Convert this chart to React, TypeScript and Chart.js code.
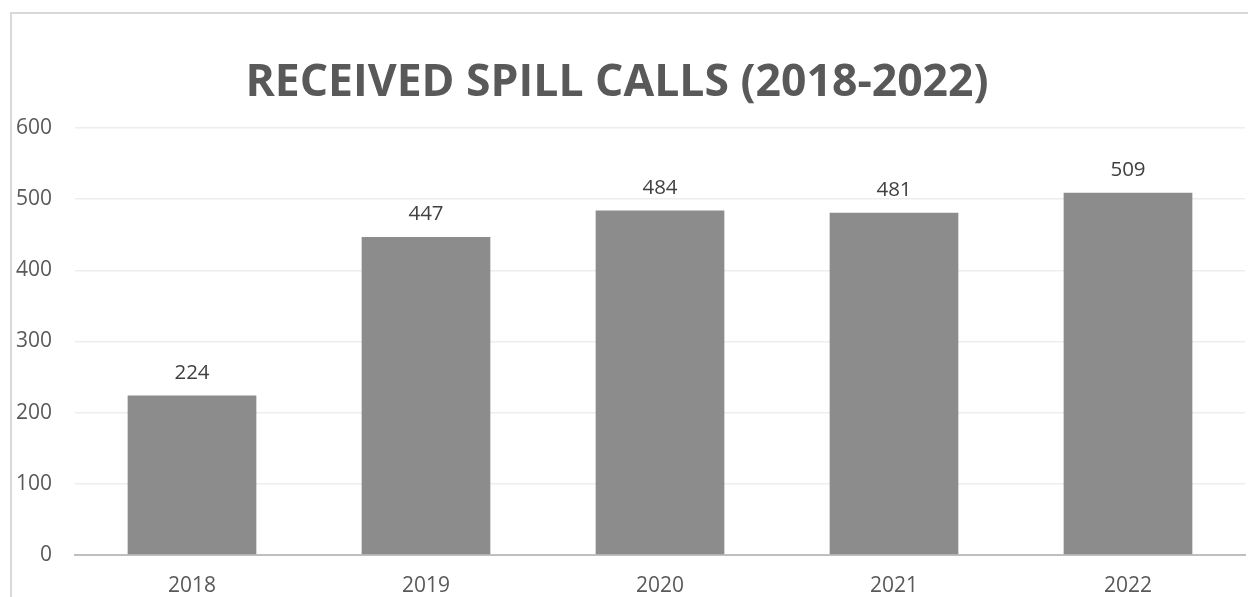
import React, { useEffect, useRef } from "react";
import { Chart, registerables } from "chart.js";

Chart.register(...registerables);

const categories = ["2018", "2019", "2020", "2021", "2022"];
const calls = [224, 447, 484, 481, 509];
const yTicks = [0, 100, 200, 300, 400, 500, 600];
const titleText = "RECEIVED SPILL CALLS (2018-2022)";

export default function App() {
  const ref = useRef<HTMLCanvasElement | null>(null);

  useEffect(() => {
    const canvas = ref.current;
    if (!canvas) return;
    const font = "'Open Sans', 'DejaVu Sans', sans-serif";

    const labelsPlugin = {
      id: "labelsAndTitle",
      afterDatasetsDraw(chart: any) {
        const ctx = chart.ctx;
        ctx.save();
        const meta = chart.getDatasetMeta(0);
        ctx.fillStyle = "#404040";
        ctx.font = `20.5px ${font}`;
        ctx.textAlign = "center";
        ctx.textBaseline = "alphabetic";
        meta.data.forEach((bar: any, i: number) => {
          ctx.fillText(String(calls[i]), bar.x, bar.y - 17);
        });
        ctx.fillStyle = "#595959";
        ctx.font = `bold 44.5px ${font}`;
        ctx.fillText(titleText, 617, 96);
        ctx.restore();
      },
    };

    const chart = new Chart(canvas, {
      type: "bar",
      data: {
        labels: categories,
        datasets: [
          {
            data: calls,
            backgroundColor: "#8c8c8c",
            borderWidth: 0,
            categoryPercentage: 0.55,
            barPercentage: 1,
          },
        ],
      },
      options: {
        animation: false,
        responsive: false,
        maintainAspectRatio: false,
        layout: { padding: { top: 128, right: 3, left: 0, bottom: 0 } },
        plugins: {
          legend: { display: false },
          title: { display: false },
          tooltip: { enabled: false },
        },
        scales: {
          x: {
            grid: { display: false, drawTicks: false },
            border: { color: "#bfbfbf", width: 2 },
            ticks: {
              color: "#595959",
              font: { family: font, size: 21 },
              padding: 18,
            },
            afterFit(scale: any) {
              scale.height = 42;
            },
          },
          y: {
            min: 0,
            max: 600,
            afterBuildTicks(scale: any) {
              scale.ticks = yTicks.map((v) => ({ value: v }));
            },
            grid: { color: "#ededed", lineWidth: 1.5, drawTicks: false },
            border: { display: false },
            ticks: {
              color: "#595959",
              font: { family: font, size: 21 },
              padding: 23,
            },
            afterFit(scale: any) {
              scale.width = 75;
            },
          },
        },
      },
      plugins: [labelsPlugin],
    });
    return () => chart.destroy();
  }, []);

  return (
    <div style={{ position: "fixed", left: 0, top: 0, width: 1248, height: 597, background: "#fff", overflow: "hidden" }}>
      <div
        style={{
          position: "absolute",
          left: 10,
          top: 12,
          width: 1260,
          height: 620,
          borderLeft: "2px solid #d9d9d9",
          borderTop: "2px solid #d9d9d9",
        }}
      />
      <canvas ref={ref} width={1248} height={597} style={{ position: "absolute", left: 0, top: 0 }} />
    </div>
  );
}
